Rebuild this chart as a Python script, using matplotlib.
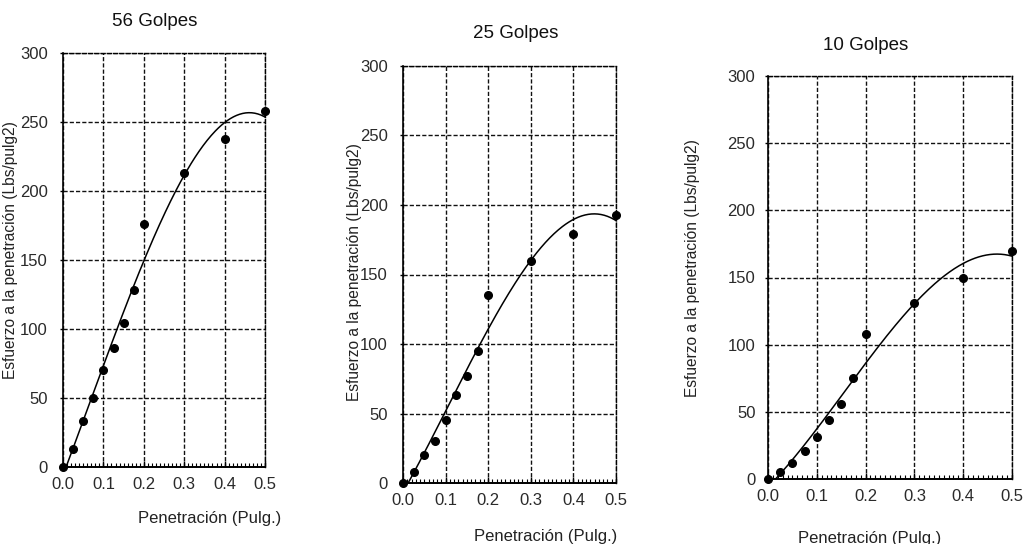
import numpy as np
import matplotlib
matplotlib.use("Agg")
import matplotlib.pyplot as plt

plt.rcParams['font.family'] = ['Liberation Sans', 'DejaVu Sans']

# Penetration readings (in.) shared by all three tests
penetracion = [0.0, 0.025, 0.05, 0.075, 0.1, 0.125, 0.15, 0.175, 0.2, 0.3, 0.4, 0.5]

# Stress readings (lbs/in^2) for each compaction energy
esfuerzo_56 = [0, 13, 33, 50, 70, 86, 104, 128, 176, 213, 238, 258]
esfuerzo_25 = [0, 8, 20, 30, 45, 63, 77, 95, 135, 160, 179, 193]
esfuerzo_10 = [0, 5, 12, 21, 31, 44, 56, 75, 108, 131, 150, 170]

titulos = ["56 Golpes", "25 Golpes", "10 Golpes"]
series = [esfuerzo_56, esfuerzo_25, esfuerzo_10]

x_ticks = [0.0, 0.1, 0.2, 0.3, 0.4, 0.5]
y_ticks = [0, 50, 100, 150, 200, 250, 300]

fig = plt.figure(figsize=(10.24, 5.44), dpi=100)
W, H = 1024, 544

# axes boxes in pixels: left, right, top, bottom
boxes = [(63, 265, 53, 467), (403, 616, 66, 483), (768, 1012, 76, 479)]
title_pos = [(155, 21), (516, 34), (866, 46)]
xlabel_pos = [(210, 519), (546, 536), (870, 538)]
ylabel_pos = [(11, 250), (355, 272), (692, 268)]
ytick_pad = [9, 9, 7]

for box, tit, ys, tp, xp, yp, pad in zip(boxes, titulos, series, title_pos,
                                         xlabel_pos, ylabel_pos, ytick_pad):
    l, r, t, b = box
    ax = fig.add_axes([l / W, 1 - b / H, (r - l) / W, (b - t) / H])
    x = np.array(penetracion)
    y = np.array(ys)

    # third-order polynomial trend through the readings
    coef = np.polyfit(x, y, 3)
    xs = np.linspace(0, 0.5, 200)
    ax.plot(xs, np.polyval(coef, xs), color='black', lw=1.1, zorder=3)
    ax.plot(x, y, 'o', color='black', ms=5.5, zorder=4, clip_on=False)

    ax.set_xlim(0, 0.5)
    ax.set_ylim(0, 300)
    ax.set_xticks(x_ticks)
    ax.set_xticklabels([f"{v:.1f}" for v in x_ticks])
    ax.set_yticks(y_ticks)
    ax.set_xticks(np.arange(0, 0.5001, 0.01), minor=True)
    ax.tick_params(axis='x', which='minor', direction='in', length=3, width=0.8, color='black')
    ax.tick_params(axis='x', which='major', direction='in', length=4, width=1, labelsize=12, pad=7)
    ax.tick_params(axis='y', which='major', direction='out', length=2, width=1, labelsize=12, pad=pad)
    for lab in ax.get_xticklabels() + ax.get_yticklabels():
        lab.set_color('#2a2a2a')

    ax.grid(True, which='major', color='#111111', linestyle=(0, (3, 1.5)), linewidth=1.0)
    for side in ['top', 'right']:
        ax.spines[side].set_linestyle((0, (3, 1.5)))
        ax.spines[side].set_linewidth(1.0)
    ax.spines['left'].set_linewidth(1.2)
    ax.spines['bottom'].set_linewidth(1.4)

    fig.text(tp[0] / W, 1 - tp[1] / H, tit, ha='center', va='center',
             fontsize=13.5, color='#111111')
    fig.text(xp[0] / W, 1 - xp[1] / H, "Penetración (Pulg.)", ha='center', va='center',
             fontsize=12, color='#222222')
    fig.text(yp[0] / W, 1 - yp[1] / H, "Esfuerzo a la penetración (Lbs/pulg2)",
             ha='center', va='center', rotation=90, fontsize=11.2, color='#222222')

fig.savefig("out.png", dpi=100)
